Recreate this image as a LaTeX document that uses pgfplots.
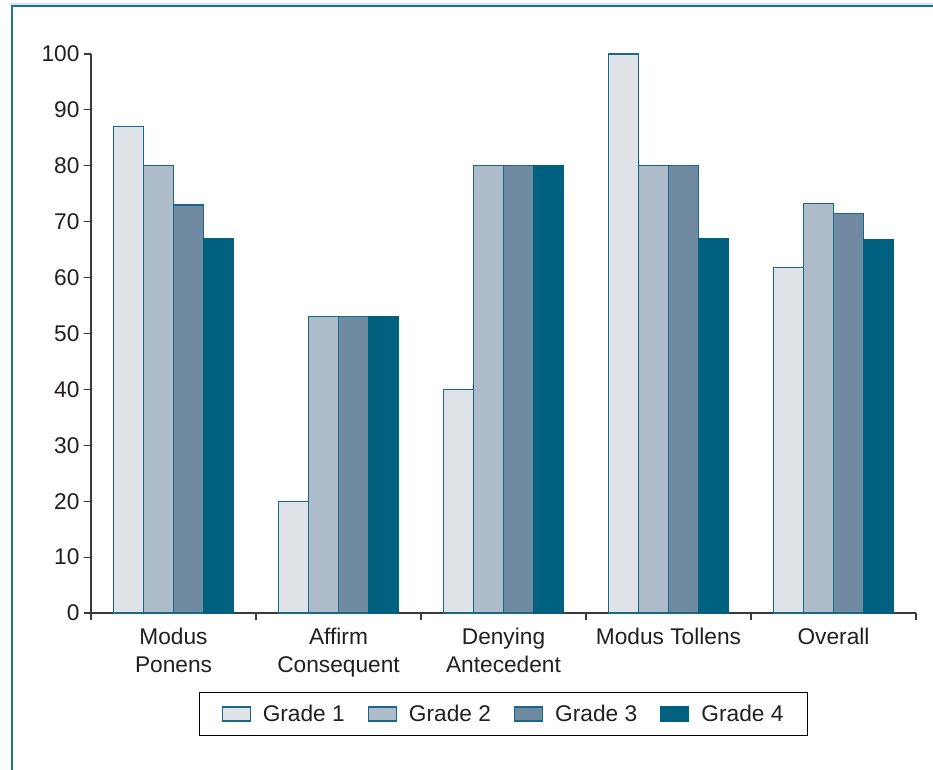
\documentclass[border=0pt]{standalone}
\usepackage{fontspec}
\setmainfont{Liberation Sans}
\usepackage{pgfplots}
\pgfplotsset{compat=1.18}
\definecolor{gA}{HTML}{DFE3E8}
\definecolor{gB}{HTML}{AEBBC8}
\definecolor{gC}{HTML}{6F8AA1}
\definecolor{gD}{HTML}{00607F}
\definecolor{edgec}{HTML}{17698A}
\definecolor{framec}{HTML}{1F7393}
\definecolor{axisc}{HTML}{3A3A3A}
\definecolor{txt}{HTML}{231F20}
\begin{document}
\begin{tikzpicture}[x=1pt,y=1pt]
\useasboundingbox (0,0) rectangle (933,769);
\clip (0,0) rectangle (933,769);
\fill[white] (0,0) rectangle (933,769);
\draw[black!12, line width=2pt] (10,765) -- (950,765);
\draw[framec, line width=1.6pt] (12,763) rectangle (960,-30);
\begin{axis}[
  at={(91pt,156pt)}, anchor=south west,
  scale only axis, width=825pt, height=559pt,
  xmin=-0.5, xmax=4.5, ymin=0, ymax=100,
  axis lines*=left,
  axis line style={draw=axisc, line width=1.2pt},
  tick align=outside, major tick length=7pt,
  tick style={draw=axisc, line width=1.2pt},
  ybar=0pt, bar width=30pt,
  ytick={0,10,...,100},
  xtick={-0.5,0.5,...,4.5}, xticklabels={},
  extra x ticks={0,1,2,3,4},
  extra x tick labels={{Modus\\Ponens},{Affirm\\Consequent},{Denying\\Antecedent},{Modus Tollens},{Overall}},
  extra x tick style={major tick length=0pt,
     xticklabel style={align=center, yshift=-12pt}},
  /pgf/number format/assume math mode=true,
  ticklabel style={font=\fontsize{22.7}{28}\selectfont, text=txt},
  yticklabel style={xshift=-1pt},
  legend columns=4,
  legend style={at={(0.5,-0.1413)}, anchor=north, draw=black, line width=1pt,
     font=\fontsize{22.7}{28}\selectfont, text=txt,
     inner xsep=22pt, inner ysep=10.5pt,
     /tikz/every odd column/.append style={column sep=10pt},
     /tikz/every even column/.append style={column sep=21pt}},
  legend image code/.code={\draw[#1, line width=1.2pt] (0pt,-7pt) rectangle (28pt,7pt);},
]
\addplot[fill=gA, draw=edgec, line width=1.2pt] coordinates {(0,87) (1,20) (2,40) (3,100) (4,61.75)};
\addplot[fill=gB, draw=edgec, line width=1.2pt] coordinates {(0,80) (1,53) (2,80) (3,80) (4,73.25)};
\addplot[fill=gC, draw=edgec, line width=1.2pt] coordinates {(0,73) (1,53) (2,80) (3,80) (4,71.5)};
\addplot[fill=gD, draw=gD, line width=1.2pt] coordinates {(0,67) (1,53) (2,80) (3,67) (4,66.75)};
\legend{Grade 1, Grade 2, Grade 3, Grade 4}
\end{axis}
\end{tikzpicture}
\end{document}
